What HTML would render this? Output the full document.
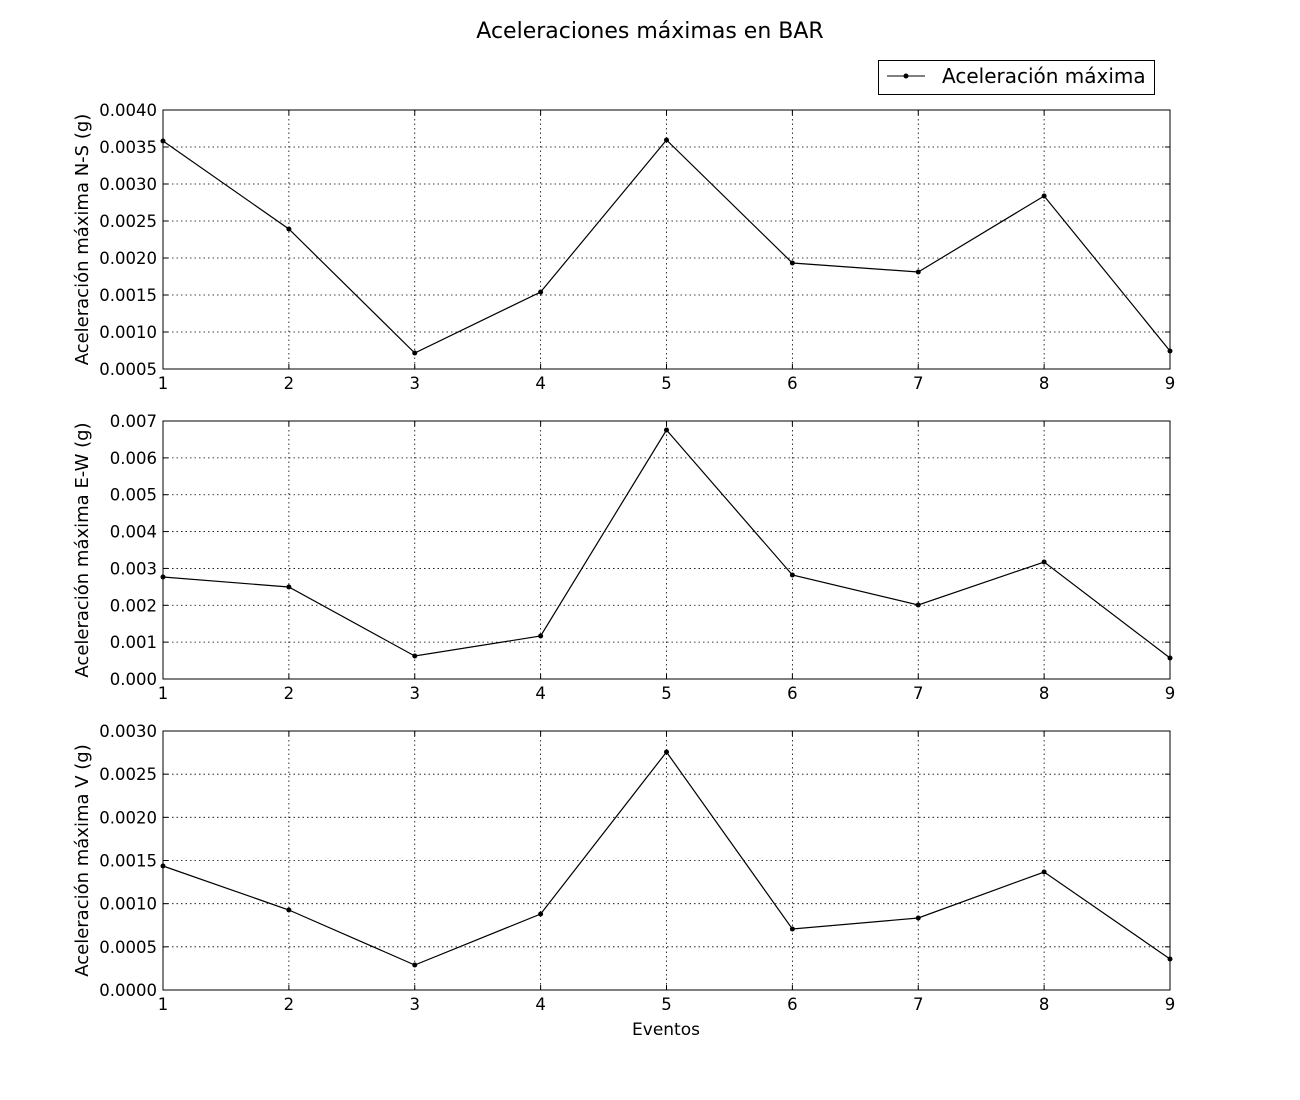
<!DOCTYPE html>
<html><head><meta charset="utf-8"><style>body{margin:0;background:#fff}svg{display:block}text{font-family:"DejaVu Sans","Liberation Sans",sans-serif;fill:#000}</style></head><body>
<svg width="1300" height="1100" viewBox="0 0 1300 1100" xmlns="http://www.w3.org/2000/svg">
<rect width="1300" height="1100" fill="#fff"/>
<text x="650" y="38" font-size="22" text-anchor="middle">Aceleraciones máximas en BAR</text>
<rect x="878.5" y="60.5" width="276" height="34" fill="#fff" stroke="#000"/>
<line x1="887" y1="76" x2="925" y2="76" stroke="#000"/><circle cx="906" cy="76" r="2.5"/>
<text x="942" y="83" font-size="20">Aceleración máxima</text>
<g id="panels"></g>
</svg>
<script>
const svg=document.querySelector('#panels'),NS='http://www.w3.org/2000/svg';
function el(t,a,txt){const e=document.createElementNS(NS,t);for(const k in a)e.setAttribute(k,a[k]);if(txt!==undefined)e.textContent=txt;svg.appendChild(e);return e;}
const L=163,R=1170,xs=[...Array(9)].map((_,i)=>L+i*(R-L)/8);
const panels=[
 {t:110,b:369,labels:['0.0005','0.0010','0.0015','0.0020','0.0025','0.0030','0.0035','0.0040'],ylab:'Aceleración máxima N-S (g)',ys:[141,229,353,292,140,263,272,196,351]},
 {t:421,b:679,labels:['0.000','0.001','0.002','0.003','0.004','0.005','0.006','0.007'],ylab:'Aceleración máxima E-W (g)',ys:[577,587,656,636,430,575,605,562,658]},
 {t:731,b:990,labels:['0.0000','0.0005','0.0010','0.0015','0.0020','0.0025','0.0030'],ylab:'Aceleración máxima V (g)',ys:[866,910,965,914,752,929,918,872,959]}];
panels.forEach(p=>{
 const n=p.labels.length-1;
 p.labels.forEach((l,i)=>{const y=p.b-i*(p.b-p.t)/n;
  if(i>0&&i<n)el('line',{x1:L,x2:R,y1:y,y2:y,stroke:'#000','stroke-dasharray':'1.5,3','stroke-width':0.8});
  el('line',{x1:L,x2:L+5,y1:y,y2:y,stroke:'#000'});el('line',{x1:R-5,x2:R,y1:y,y2:y,stroke:'#000'});
  el('text',{x:157,y:y+6,'font-size':16.5,'text-anchor':'end'},l);});
 xs.forEach((x,i)=>{
  if(i>0&&i<8)el('line',{x1:x,x2:x,y1:p.t,y2:p.b,stroke:'#000','stroke-dasharray':'1.5,3','stroke-width':0.8});
  el('line',{x1:x,x2:x,y1:p.b-5,y2:p.b,stroke:'#000'});el('line',{x1:x,x2:x,y1:p.t,y2:p.t+5,stroke:'#000'});
  el('text',{x:x,y:p.b+20,'font-size':16.5,'text-anchor':'middle'},String(i+1));});
 el('rect',{x:L,y:p.t,width:R-L,height:p.b-p.t,fill:'none',stroke:'#000'});
 el('polyline',{points:p.ys.map((y,i)=>xs[i]+','+y).join(' '),fill:'none',stroke:'#000','stroke-width':1.2});
 p.ys.forEach((y,i)=>el('circle',{cx:xs[i],cy:y,r:2.5}));
 const cy=(p.t+p.b)/2;
 el('text',{x:0,y:0,'font-size':18,'text-anchor':'middle',transform:`translate(88,${cy}) rotate(-90)`},p.ylab);
});
el('text',{x:666,y:1035,'font-size':17,'text-anchor':'middle'},'Eventos');
</script>
</body></html>
